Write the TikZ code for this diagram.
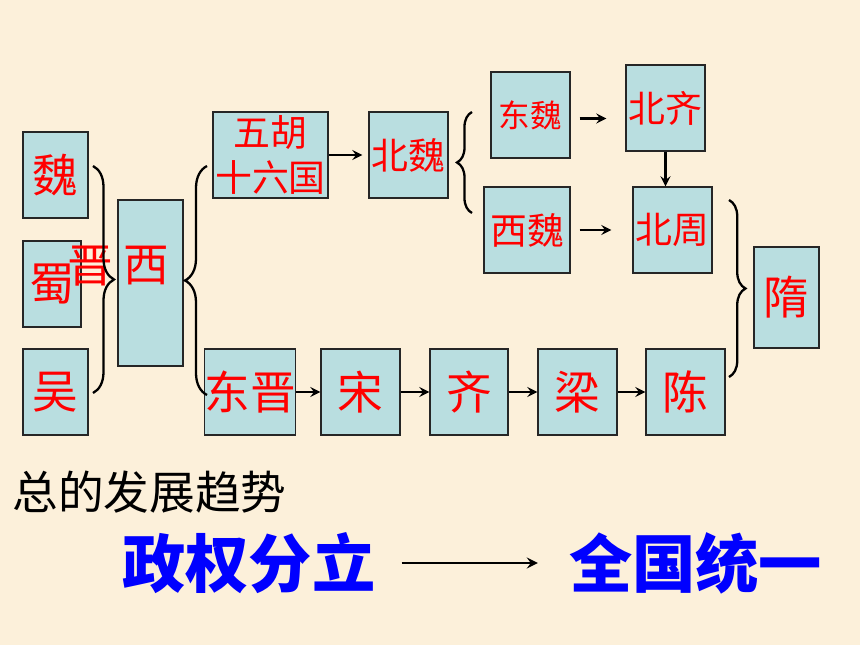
\documentclass[tikz,border=0pt]{standalone}
\usepackage{fontspec}
\newfontfamily\cjk{Noto Sans CJK SC}
\usetikzlibrary{decorations.pathreplacing}
\definecolor{paper}{RGB}{252,240,218}
\definecolor{boxfill}{RGB}{185,222,224}
\definecolor{trendblue}{RGB}{0,0,255}
\begin{document}
\begin{tikzpicture}[x=0.02cm,y=-0.02cm,
        box/.style = {draw=black!85,fill=boxfill,line width=0.7pt,inner sep=0pt,text=red},
        big/.style = {font=\cjk\fontsize{26}{30}\selectfont},
        mid/.style = {font=\cjk\fontsize{21}{25.6}\selectfont},
        small/.style = {font=\cjk\fontsize{18}{22}\selectfont},
        arrow/.style = {line width=1.5pt,-stealth},
        bracket/.style = {line width=1.3pt,decorate,decoration={brace,amplitude=#1}}]
    \fill[paper] (0,0) rectangle (860,645);
    \useasboundingbox (0,0) rectangle (860,645);

    % three kingdoms
    \node[box,big,minimum width=1.3cm,minimum height=1.72cm] (wei) at (55.5,175) {魏};
    \node[box,big,minimum width=1.16cm,minimum height=1.72cm] (shu) at (52,284) {蜀};
    \node[box,big,minimum width=1.3cm,minimum height=1.72cm] (wu) at (55.5,392) {吴};
    \node[box,minimum width=1.3cm,minimum height=3.32cm] (xi) at (150.5,283) {};
    \node[big,text=red] (jin) at (90,266) {晋};
    \node[big,text=red] (xitext) at (146,266) {西};

    % north
    \node[box,mid,align=center,minimum width=2.3cm,minimum height=1.72cm] (wuhu) at (270.5,155) {五胡\\十六国};
    \node[box,mid,minimum width=1.58cm,minimum height=1.72cm] (beiwei) at (408.5,155) {北魏};
    \node[box,small,minimum width=1.58cm,minimum height=1.72cm] (dongwei) at (530.5,115) {东魏};
    \node[box,mid,minimum width=1.58cm,minimum height=1.72cm] (beiqi) at (665.5,108) {北齐};
    \node[box,mid,minimum width=1.72cm,minimum height=1.72cm] (xiwei) at (527,230) {西魏};
    \node[box,mid,minimum width=1.58cm,minimum height=1.72cm] (beizhou) at (672.5,230) {北周};
    \node[box,big,minimum width=1.3cm,minimum height=2.02cm] (sui) at (786.5,297.5) {隋};

    % south
    \node[box,big,minimum width=1.76cm,minimum height=1.72cm] (dongjin) at (250,392) {东晋};
    \node[box,big,minimum width=1.58cm,minimum height=1.72cm] (song) at (360.5,392) {宋};
    \node[box,big,minimum width=1.56cm,minimum height=1.72cm] (qi) at (469,392) {齐};
    \node[box,big,minimum width=1.58cm,minimum height=1.72cm] (liang) at (577.5,392) {梁};
    \node[box,big,minimum width=1.58cm,minimum height=1.72cm] (chen) at (685.5,392) {陈};

    \draw[bracket=0.42cm] (93,166) -- (93,393);
    \draw[bracket=0.44cm] (207,395) -- (207,166);
    \draw[bracket=0.3cm] (472,213) -- (472,112);
    \draw[bracket=0.33cm] (729,200) -- (729,377);

    \draw[arrow,shorten >=0.12cm] (wuhu) -- (beiwei);
    \draw[arrow,shorten <=0.18cm,shorten >=0.38cm] ([yshift=-2pt]dongwei.east) -- ([yshift=-2pt]dongwei.east -| beiqi.west);
    \draw[arrow] (beiqi.south) -- (beiqi.south |- beizhou.north);
    \draw[arrow,shorten <=0.18cm,shorten >=0.42cm] (xiwei) -- (beizhou);
    \draw[arrow] (dongjin) -- (song);
    \draw[arrow] (song) -- (qi);
    \draw[arrow] (qi) -- (liang);
    \draw[arrow] (liang) -- (chen);

    % trend
    \node[font=\cjk\fontsize{26}{30}\selectfont,anchor=west,inner sep=0pt] (trend) at (12,492) {总的发展趋势};
    \node[font=\cjk\bfseries\fontsize{36}{40}\selectfont,text=trendblue] (split) at (249,563) {政权分立};
    \node[font=\cjk\bfseries\fontsize{36}{40}\selectfont,text=trendblue] (unite) at (695.5,563) {全国统一};
    \draw[line width=1.7pt,-stealth,shorten <=0.4cm,shorten >=0.5cm] (split) -- (unite);
\end{tikzpicture}
\end{document}
